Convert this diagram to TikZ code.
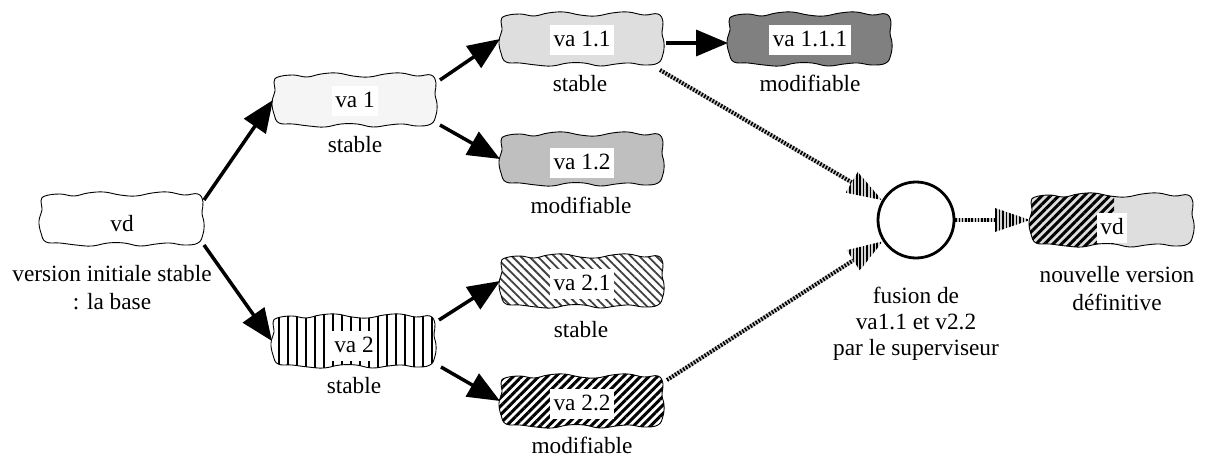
\documentclass[tikz,border=0pt]{standalone}
\usepackage{fontspec}
\setmainfont{Liberation Serif}
\usetikzlibrary{arrows.meta,calc,patterns.meta}

\definecolor{paleG}{gray}{0.96}
\definecolor{lightG}{gray}{0.87}
\definecolor{midG}{gray}{0.75}
\definecolor{darkG}{gray}{0.50}

% wavy outline of a version, relative to its centre
\newcommand\blobpath[1]{%
  \path[#1] plot[smooth cycle,tension=0.7] coordinates {
    (-77,-23) (-62,-25) (-48,-23) (-34,-26) (-18,-27) (-2,-24) (14,-23)
    (30,-26) (46,-27) (62,-24) (76,-25)
    (81,-17) (80,-6) (82,4) (81,15)
    (76,24) (62,26) (48,24) (34,25) (18,27) (2,24) (-14,24) (-30,27)
    (-46,26) (-62,24) (-76,23)
    (-81,14) (-83,2) (-80,-9) (-81,-18)};}

% striped arrow head from #1 towards the tip #2
\newcommand\hatchhead[2]{%
  \path[hhead] (#2) -- ($(#2)!35pt!(#1)!12pt!90:(#1)$)
    -- ($(#2)!35pt!(#1)!12pt!-90:(#1)$) -- cycle;}

\tikzset{
  blobbox/.style={rectangle, minimum width=164pt, minimum height=52pt,
    inner sep=0pt, outer sep=0pt},
  tag/.style={fill=white, inner xsep=3.5pt, inner ysep=4.5pt,
    text height=17pt, text depth=4pt, anchor=base,
    font=\fontsize{23.3}{28}\selectfont},
  note/.style={anchor=base, align=center, font=\fontsize{23.3}{28}\selectfont},
  outline/.style={draw=black, line width=0.9pt},
  arr/.style={line width=3.5pt, -{Triangle[length=32pt,width=26pt]}},
  hatch/.style={line width=4pt, draw=black, dash pattern=on 1.6pt off 1.6pt,
    preaction={draw=gray!45, line width=4pt}},
  hhead/.style={preaction={fill=gray!35},
    pattern={Lines[angle=90,distance=3.4pt,line width=1.7pt]},
    pattern color=black},
}

\begin{document}
\begin{tikzpicture}[x=1pt,y=-1pt]
\useasboundingbox (0,0) rectangle (1206,457);
\fill[white] (0,0) rectangle (1206,457);

% placement of the versions
\node[blobbox] (vd)    at (122,219) {};
\node[blobbox] (va1)   at (355,100) {};
\node[blobbox] (va2)   at (354,341) {};
\node[blobbox] (va11)  at (582,39)  {};
\node[blobbox] (va111) at (810,39)  {};
\node[blobbox] (va12)  at (582,159) {};
\node[blobbox] (va21)  at (582,281) {};
\node[blobbox] (va22)  at (582,401) {};
\node[blobbox] (vdf)   at (1112,220) {};
\node[circle, draw, line width=2.8pt, minimum size=76pt, inner sep=0pt] (fus) at (916,220) {};

% outlines and fillings
\blobpath{shift={(vd.center)}, outline, fill=white}
\blobpath{shift={(va1.center)}, outline, fill=paleG}
\blobpath{shift={(va2.center)}, outline, fill=white,
  pattern={Lines[angle=90,distance=9pt,line width=1.3pt]}, pattern color=black}
\blobpath{shift={(va11.center)}, outline, fill=lightG}
\blobpath{shift={(va111.center)}, outline, fill=darkG}
\blobpath{shift={(va12.center)}, outline, fill=midG}
\blobpath{shift={(va21.center)}, outline,
  pattern={Lines[angle=-45,distance=6pt,line width=1.8pt]}, pattern color=black!75}
\blobpath{shift={(va22.center)}, outline,
  pattern={Lines[angle=45,distance=6pt,line width=3pt]}, pattern color=black}
\begin{scope}
  \blobpath{shift={(vdf.center)}, clip}
  \fill[lightG] ([xshift=-5pt,yshift=-5pt]vdf.south west) rectangle ([xshift=5pt,yshift=5pt]vdf.north east);
  \fill[pattern={Lines[angle=45,distance=6pt,line width=3pt]}, pattern color=black]
    ([xshift=-5pt,yshift=-5pt]vdf.south west) rectangle ([xshift=2pt,yshift=5pt]vdf.north);
\end{scope}
\blobpath{shift={(vdf.center)}, outline}

% names inside the versions
\node[tag] (vdt)    at ([yshift=-12pt]vd.center)    {vd};
\node[tag] (va1t)   at ([yshift=-8pt]va1.center)    {va 1};
\node[tag] (va2t)   at ([yshift=-11pt]va2.center)   {va 2};
\node[tag] (va11t)  at ([yshift=-8pt]va11.center)   {va 1.1};
\node[tag] (va111t) at ([yshift=-8pt]va111.center)  {va 1.1.1};
\node[tag] (va12t)  at ([yshift=-11pt]va12.center)  {va 1.2};
\node[tag] (va21t)  at ([yshift=-9pt]va21.center)   {va 2.1};
\node[tag] (va22t)  at ([yshift=-9pt]va22.center)   {va 2.2};
\node[tag] (vdft)   at ([yshift=-14pt]vdf.center)   {vd};

% captions (a multi-line caption sits on the baseline of its last line)
\node[note] (vdn)   at (112,309) {version initiale stable\\: la base};
\node[note] (va1n)  at (355,153) {stable};
\node[note] (va2n)  at (354,393) {stable};
\node[note] (va11n) at (580,92)  {stable};
\node[note] (va111n) at (810,92) {modifiable};
\node[note] (va12n) at (581,213) {modifiable};
\node[note] (va21n) at (581,337) {stable};
\node[note] (va22n) at (582,453) {modifiable};
\node[note, font=\fontsize{23.3}{26}\selectfont] (fusn) at (916,355) {fusion de\\va1.1 et v2.2\\par le superviseur};
\node[note] (vdfn)  at (1117,310) {nouvelle version\\définitive};

% derivations
\draw[arr] ([yshift=-7pt]vd.north east) -- (va1.west);
\draw[arr] (vd.south east) -- (va2.west);
\draw[arr] ([xshift=3pt,yshift=-6pt]va1.north east) -- (va11.west);
\draw[arr] ([xshift=3pt,yshift=1pt]va1.south east) -- (va12.west);
\draw[arr] ([xshift=3pt,yshift=-5pt]va2.north east) -- (va21.west);
\draw[arr] ([xshift=5pt]va2.south east) -- (va22.west);
\draw[arr] ([xshift=2pt,yshift=-4pt]va11.east) -- ([yshift=-4pt]va111.west);

% merge
\coordinate (s1) at ([xshift=-4pt,yshift=-5pt]va11.south east);
\coordinate (t1) at ($(fus)!39.5pt!(s1)$);
\draw[hatch] (s1) -- ($(t1)!34pt!(s1)$);
\hatchhead{s1}{t1}
\coordinate (s2) at ([xshift=3pt,yshift=-5pt]va22.north east);
\coordinate (t2) at ($(fus)!39.5pt!(s2)$);
\draw[hatch] (s2) -- ($(t2)!34pt!(s2)$);
\hatchhead{s2}{t2}
\coordinate (t3) at (vdf.west);
\draw[hatch] (fus.east) -- ($(t3)!34pt!(fus.east)$);
\hatchhead{fus.east}{t3}
\end{tikzpicture}
\end{document}
